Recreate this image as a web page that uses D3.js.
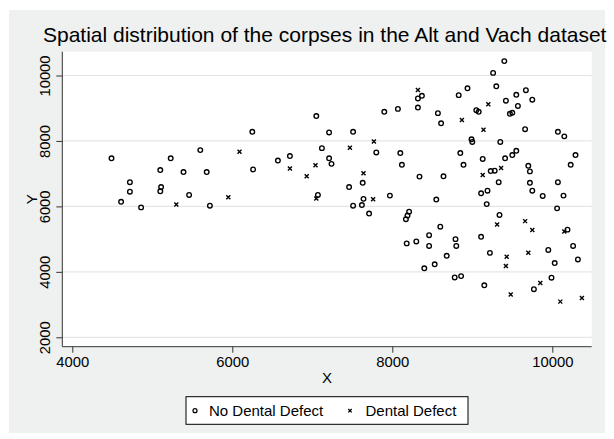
<!DOCTYPE html>
<html>
<head>
<meta charset="utf-8">
<script src="https://cdn.jsdelivr.net/npm/d3@7"></script>
<style>
    body { margin: 0; background: #ffffff; }
    text { font-family: "Liberation Sans", Arial, Helvetica, sans-serif; fill: #000; }
</style>
</head>
<body>
<div id="chart"></div>
<script>
const titleText = "Spatial distribution of the corpses in the Alt and Vach dataset";
const xTicks = [4000, 6000, 8000, 10000];
const yTicks = [2000, 4000, 6000, 8000, 10000];
const legendLabels = ["No Dental Defect", "Dental Defect"];

// [X, Y] of every corpse without defect
const noDefect = [
    [4490, 7470], [4610, 6140], [4720, 6740], [4720, 6450], [4860, 5970], [5100, 7110],
    [5110, 6590], [5100, 6460], [5230, 7470], [5390, 7050], [5460, 6350], [5600, 7720],
    [5680, 7050], [5720, 6020], [6250, 8280], [6260, 7130], [6570, 7400], [6720, 7540],
    [7050, 8760], [7120, 7780], [7210, 8260], [7210, 7470], [7240, 7300], [7070, 6350],
    [7460, 6590], [7510, 8280], [7630, 6720], [7640, 6230], [7510, 6020], [7620, 6040],
    [7710, 5780], [7800, 7650], [7900, 8890], [8070, 8980], [8100, 7630], [8120, 7270],
    [7970, 6330], [8170, 5610], [8190, 5720], [8210, 5840], [8180, 4870], [9400, 10440],
    [9260, 10080], [9300, 9670], [8940, 9610], [8830, 9400], [8320, 9300], [8370, 9380],
    [8320, 9020], [8570, 8850], [8610, 8540], [9050, 8940], [9080, 8890], [9420, 9230],
    [9550, 9410], [9670, 9550], [9750, 9260], [9570, 9070], [9470, 8830], [9500, 8860],
    [9660, 8360], [10070, 8280], [10150, 8140], [8990, 8050], [9000, 7970], [9350, 7970],
    [8850, 7630], [8890, 7270], [9130, 7450], [9410, 7470], [9500, 7570], [9550, 7700],
    [9700, 7240], [9720, 7070], [10290, 7570], [10230, 7270], [8340, 6910], [8640, 6920],
    [9230, 7080], [9280, 7090], [9330, 6740], [9720, 6720], [9750, 6480], [9880, 6320],
    [10070, 6740], [10140, 6330], [9110, 6400], [9190, 6480], [9180, 6070], [8550, 6210],
    [10060, 5940], [9340, 5740], [8300, 4930], [8460, 5120], [8460, 4790], [8600, 5380],
    [8530, 4230], [8400, 4110], [8680, 4490], [8790, 5000], [8800, 4790], [8780, 3830],
    [8860, 3870], [9110, 5070], [9220, 4580], [9150, 3590], [9770, 3470], [9990, 3820],
    [9950, 4670], [10030, 4270], [10190, 5290], [10260, 4790], [10320, 4380]
];

// [X, Y] of every corpse with defect
const defect = [
    [5300, 6060], [5950, 6280], [6090, 7670], [6720, 7160], [7040, 7260], [6930, 6920],
    [7050, 6240], [7470, 7790], [7770, 7980], [7640, 7010], [7760, 6220], [8320, 9560],
    [9200, 9120], [8870, 8640], [9140, 8340], [9360, 7170], [9130, 6960], [9310, 5450],
    [9660, 5550], [9750, 5280], [9430, 4460], [9420, 4180], [9700, 4580], [9480, 3310],
    [9850, 3660], [10150, 5230], [10100, 3090], [10370, 3200]
];

const xAccessor = (d) => d[0];
const yAccessor = (d) => d[1];

const dimensions = {
    width: 614,
    height: 439,
    plot: { left: 62.3, right: 591.7, top: 51.7, bottom: 346.7 }
};
const plot = dimensions.plot;

const xScale = d3.scaleLinear()
    .domain([4000, 10000])
    .range([72.3, 552.3]);

const yScale = d3.scaleLinear()
    .domain([2000, 10000])
    .range([337.3, 75.5]);

const wrapper = d3.select("#chart")
    .append("svg")
    .attr("width", dimensions.width)
    .attr("height", dimensions.height);

//graph region
wrapper.append("rect")
    .attr("x", 9)
    .attr("y", 10)
    .attr("width", 596)
    .attr("height", 423)
    .style("fill", "#eff1f0");

//plot region
wrapper.append("rect")
    .attr("x", plot.left)
    .attr("y", plot.top)
    .attr("width", plot.right - plot.left)
    .attr("height", plot.bottom - plot.top)
    .style("fill", "#ffffff");

//grid
wrapper.append("g")
    .selectAll("line")
    .data(yTicks)
    .enter().append("line")
    .attr("x1", plot.left)
    .attr("x2", plot.right)
    .attr("y1", yScale)
    .attr("y2", yScale)
    .style("stroke", "#e4e6e5")
    .style("stroke-width", 1.2);

//axes
const xAxis = d3.axisBottom(xScale)
    .tickValues(xTicks)
    .tickSize(6)
    .tickPadding(4)
    .tickFormat(d3.format("d"));

const xAxisGroup = wrapper.append("g")
    .attr("transform", `translate(0, ${plot.bottom})`)
    .call(xAxis);
xAxisGroup.select(".domain").remove();
xAxisGroup.append("line")
    .attr("x1", plot.left)
    .attr("x2", plot.right)
    .style("stroke", "#333");
xAxisGroup.selectAll(".tick line").style("stroke", "#333");
xAxisGroup.selectAll(".tick text")
    .attr("y", 20)
    .attr("dy", 0)
    .style("font-size", "14.8px")
    .style("font-family", "'Liberation Sans', Arial, sans-serif")
    .style("fill", "#000");

const yAxis = d3.axisLeft(yScale)
    .tickValues(yTicks)
    .tickSize(6)
    .tickFormat(d3.format("d"));

const yAxisGroup = wrapper.append("g")
    .attr("transform", `translate(${plot.left}, 0)`)
    .call(yAxis);
yAxisGroup.select(".domain").remove();
yAxisGroup.append("line")
    .attr("y1", plot.top)
    .attr("y2", plot.bottom)
    .style("stroke", "#333");
yAxisGroup.selectAll(".tick line").style("stroke", "#333");
yAxisGroup.selectAll(".tick text")
    .attr("x", 0)
    .attr("dy", 0)
    .attr("transform", "translate(-12.3, 0) rotate(-90)")
    .style("text-anchor", "middle")
    .style("font-size", "14.8px")
    .style("font-family", "'Liberation Sans', Arial, sans-serif")
    .style("fill", "#000");

//axis titles
wrapper.append("text")
    .attr("x", (plot.left + plot.right) / 2)
    .attr("y", 383.3)
    .style("text-anchor", "middle")
    .style("font-size", "15px")
    .text("X");

wrapper.append("text")
    .attr("transform", `translate(36.7, ${(plot.top + plot.bottom) / 2}) rotate(-90)`)
    .style("text-anchor", "middle")
    .style("font-size", "15px")
    .text("Y");

//title
wrapper.append("text")
    .attr("x", 324.7)
    .attr("y", 42)
    .style("text-anchor", "middle")
    .style("font-size", "21px")
    .text(titleText);

//markers
const crossPath = (s) => `M${-s},${-s}L${s},${s}M${-s},${s}L${s},${-s}`;

wrapper.append("g")
    .selectAll("circle")
    .data(noDefect)
    .enter().append("circle")
    .attr("cx", (d) => xScale(xAccessor(d)))
    .attr("cy", (d) => yScale(yAccessor(d)))
    .attr("r", 2.3)
    .style("fill", "none")
    .style("stroke", "#000")
    .style("stroke-width", 1.35);

wrapper.append("g")
    .selectAll("path")
    .data(defect)
    .enter().append("path")
    .attr("d", crossPath(2))
    .attr("transform", (d) => `translate(${xScale(xAccessor(d))}, ${yScale(yAccessor(d))})`)
    .style("fill", "none")
    .style("stroke", "#000")
    .style("stroke-width", 1.4);

//legend
const legend = wrapper.append("g");

legend.append("rect")
    .attr("x", 186)
    .attr("y", 396.7)
    .attr("width", 282)
    .attr("height", 27.6)
    .style("fill", "#ffffff")
    .style("stroke", "#000")
    .style("stroke-width", 1);

legend.append("circle")
    .attr("cx", 195)
    .attr("cy", 410.7)
    .attr("r", 2)
    .style("fill", "none")
    .style("stroke", "#000")
    .style("stroke-width", 1.2);

legend.append("text")
    .attr("x", 209)
    .attr("y", 416)
    .style("font-size", "15px")
    .text(legendLabels[0]);

legend.append("path")
    .attr("d", crossPath(1.7))
    .attr("transform", "translate(350, 410.7)")
    .style("stroke", "#000")
    .style("stroke-width", 1.3);

legend.append("text")
    .attr("x", 365.5)
    .attr("y", 416)
    .style("font-size", "15px")
    .text(legendLabels[1]);
</script>
</body>
</html>
